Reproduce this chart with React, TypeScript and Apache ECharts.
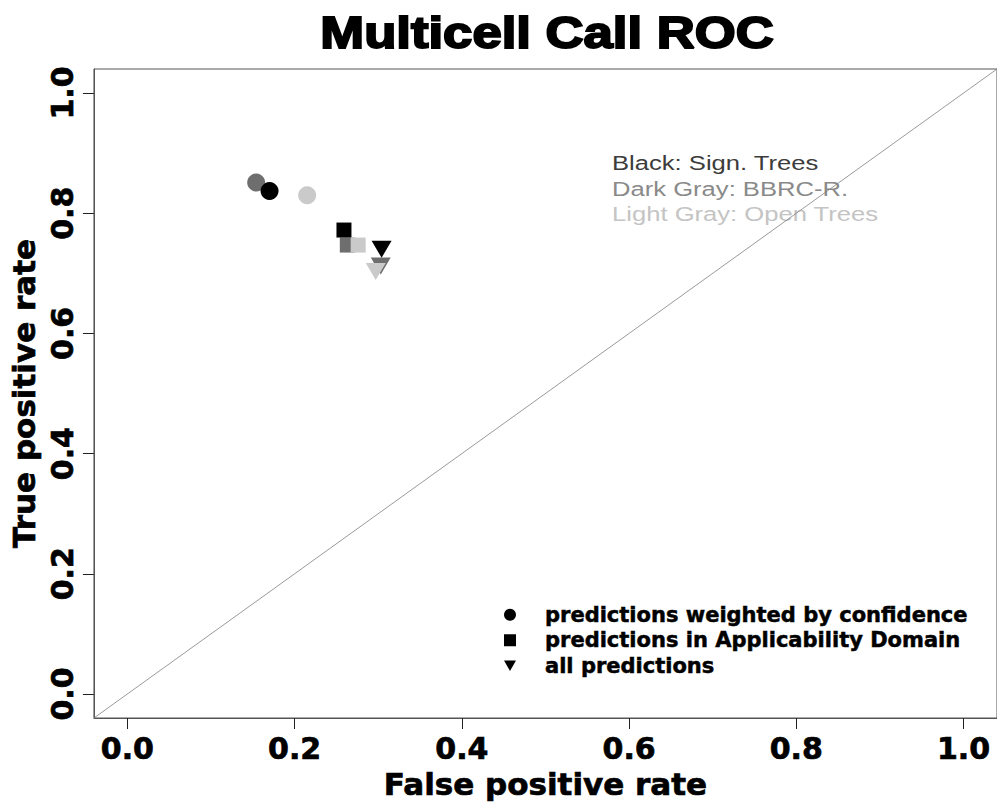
import React, { useEffect, useRef } from "react";
import * as echarts from "echarts";

// Methods in drawing order (later ones on top)
const METHODS = ["BBRC-R.", "Sign. Trees", "Open Trees"];
const METHOD_COLORS = ["#6e6e6e", "#000000", "#cacaca"];

// predictions weighted by confidence (circles)
const weightedFPR = [0.154, 0.17, 0.215];
const weightedTPR = [0.851, 0.837, 0.83];
// predictions in Applicability Domain (squares)
const adFPR = [0.263, 0.259, 0.276];
const adTPR = [0.747, 0.772, 0.747];
// all predictions (triangles)
const allFPR = [0.303, 0.304, 0.297];
const allTPR = [0.712, 0.74, 0.703];

const LEGEND_NAMES = [
  "predictions weighted by confidence",
  "predictions in Applicability Domain",
  "all predictions",
];
const TICKS = [0, 0.2, 0.4, 0.6, 0.8, 1.0];
const AXIS_MIN = -0.04;
const AXIS_MAX = 1.04;

const ANNOTATIONS = [
  { text: "Black: Sign. Trees", color: "#3c3c3c" },
  { text: "Dark Gray: BBRC-R.", color: "#8a8a8a" },
  { text: "Light Gray: Open Trees", color: "#c4c4c4" },
];

const BOLD = "DejaVu Sans";

function pts(fx: number[], ty: number[]) {
  return METHODS.map((m, i) => ({
    name: m,
    value: [fx[i], ty[i]],
    itemStyle: { color: METHOD_COLORS[i], opacity: 1 },
  }));
}

const heavy = { textBorderColor: "#000", textBorderWidth: 0.7 };

export default function App() {
  const ref = useRef<HTMLDivElement>(null);
  useEffect(() => {
    if (!ref.current) return;
    const chart = echarts.init(ref.current, null, { renderer: "svg" });
    const axisCommon = {
      type: "value" as const,
      min: AXIS_MIN,
      max: AXIS_MAX,
      splitLine: { show: false },
      axisLine: { show: true, onZero: false, lineStyle: { color: "#555", width: 1 } },
      axisTick: {
        show: true,
        customValues: TICKS,
        length: 11,
        lineStyle: { color: "#222", width: 1 },
      },
      nameLocation: "middle" as const,
      nameTextStyle: {
        fontFamily: BOLD,
        fontWeight: "bold" as const,
        fontSize: 31,
        color: "#000",
        ...heavy,
      },
    };
    const tickLabel = {
      customValues: TICKS,
      formatter: (v: number) => v.toFixed(1),
      fontFamily: BOLD,
      fontWeight: "bold" as const,
      fontSize: 30,
      color: "#000",
      ...heavy,
    };
    chart.setOption({
      animation: false,
      backgroundColor: "#fff",
      grid: {
        left: 93,
        top: 69,
        width: 906,
        height: 649,
        show: true,
        borderColor: "#555",
        borderWidth: 1,
        backgroundColor: "transparent",
      },
      xAxis: {
        ...axisCommon,
        name: "False positive rate",
        nameGap: 46,
        axisLabel: { ...tickLabel, margin: 15 },
      },
      yAxis: {
        ...axisCommon,
        name: "True positive rate",
        nameGap: 46,
        axisLabel: { ...tickLabel, rotate: 90, margin: 16 },
      },
      legend: {
        orient: "vertical",
        left: 499,
        top: 599,
        itemWidth: 12,
        itemHeight: 12,
        itemGap: 4,
        itemStyle: { opacity: 1, color: "#000" },
        textStyle: {
          fontFamily: BOLD,
          fontWeight: "bold",
          fontSize: 21,
          color: "#000",
          padding: [0, 0, 0, 24],
          textBorderColor: "#000",
          textBorderWidth: 0.5,
        },
        data: [
          { name: LEGEND_NAMES[0], icon: "circle" },
          { name: LEGEND_NAMES[1], icon: "rect" },
          { name: LEGEND_NAMES[2], icon: "path://M0,0L14,0L7,12Z" },
        ],
      },
      graphic: [
        {
          type: "text",
          x: 547,
          y: 32,
          scaleX: 1.17,
          style: {
            text: "Multicell Call ROC",
            font: "bold 45px 'Liberation Sans', Arial, sans-serif",
            fill: "#000",
            stroke: "#000",
            lineWidth: 2,
            textAlign: "center",
            align: "center",
            textVerticalAlign: "middle",
            verticalAlign: "middle",
          },
        },
        ...ANNOTATIONS.map((a, i) => ({
          type: "text",
          x: 612,
          y: 163 + i * 25.5,
          scaleX: 1.22,
          style: {
            text: a.text,
            font: "21px 'Liberation Sans', Arial, sans-serif",
            fill: a.color,
            textAlign: "left",
            align: "left",
            textVerticalAlign: "middle",
            verticalAlign: "middle",
          },
        })),
      ],
      series: [
        {
          type: "line",
          name: "diagonal",
          data: [
            [AXIS_MIN, AXIS_MIN],
            [AXIS_MAX, AXIS_MAX],
          ],
          showSymbol: false,
          symbol: "none",
          silent: true,
          lineStyle: { color: "#808080", width: 0.8 },
          z: 1,
        },
        {
          type: "scatter",
          name: LEGEND_NAMES[0],
          symbol: "circle",
          symbolSize: 18,
          itemStyle: { color: "#000", opacity: 1 },
          data: pts(weightedFPR, weightedTPR),
          z: 3,
        },
        {
          type: "scatter",
          name: LEGEND_NAMES[1],
          symbol: "rect",
          symbolSize: 15,
          itemStyle: { color: "#000", opacity: 1 },
          data: pts(adFPR, adTPR),
          z: 3,
        },
        {
          type: "scatter",
          name: LEGEND_NAMES[2],
          symbol: "triangle",
          symbolRotate: 180,
          symbolSize: [20, 17],
          itemStyle: { color: "#000", opacity: 1 },
          data: pts(allFPR, allTPR),
          z: 3,
        },
      ],
    });
    return () => chart.dispose();
  }, []);
  return (
    <div
      ref={ref}
      style={{ position: "fixed", left: 0, top: 0, width: 997, height: 807 }}
    />
  );
}
